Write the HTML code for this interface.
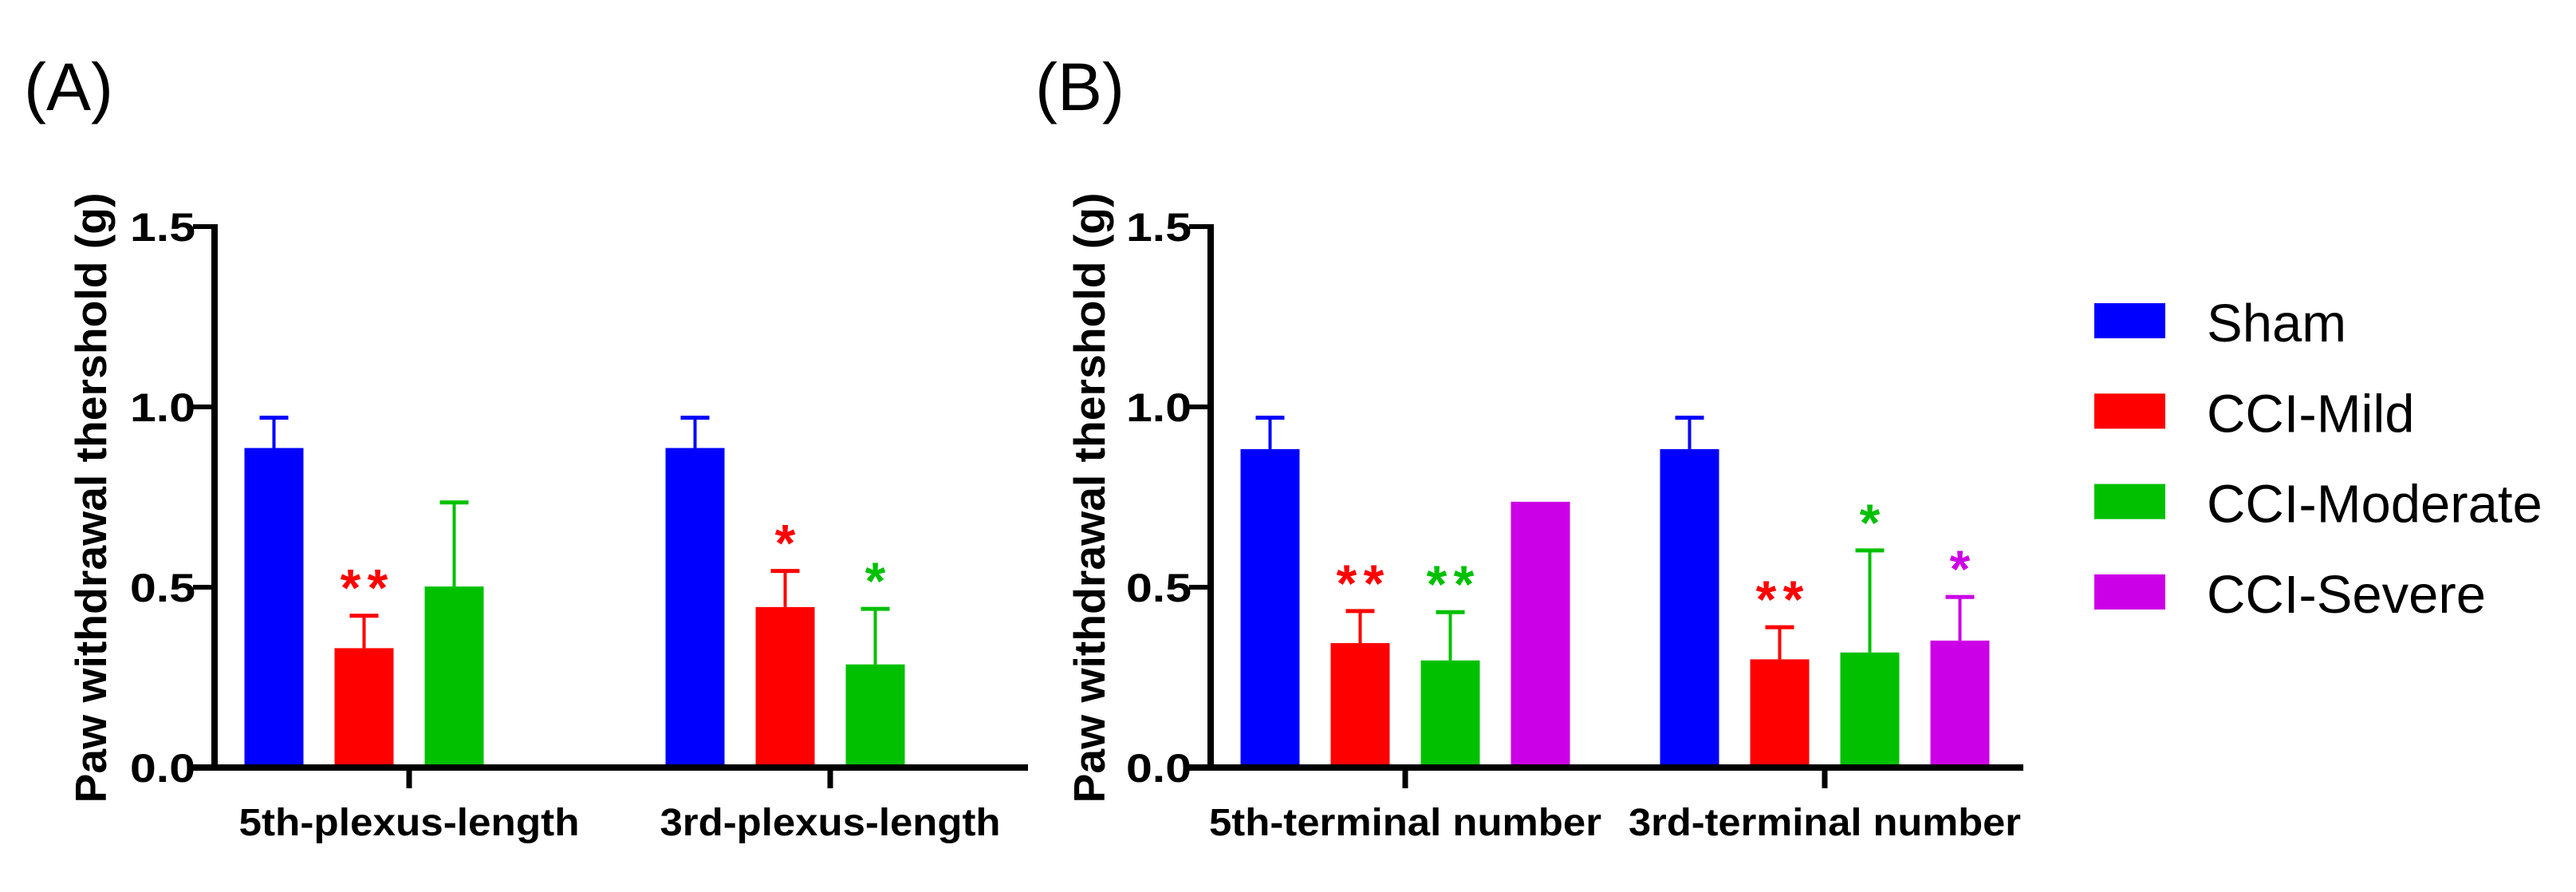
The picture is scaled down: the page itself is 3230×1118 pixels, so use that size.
<!DOCTYPE html>
<html><head><meta charset="utf-8"><style>
html,body{margin:0;padding:0;background:#fff;}
svg{display:block;font-family:"Liberation Sans",Arial,sans-serif;}
</style></head><body>
<svg id="chart" width="3230" height="1118" viewBox="0 0 3230 1118" xmlns="http://www.w3.org/2000/svg">
<text x="30" y="138" font-size="84">(A)</text>
<text x="1298" y="138" font-size="84">(B)</text>
<g id="panelA"></g>
<g id="panelB"></g>
<g id="legend"></g>
</svg>
<script>
const seriesNames = ["Sham","CCI-Mild","CCI-Moderate","CCI-Severe"];
const seriesColors = ["#0000ff","#ff0000","#00c000","#cc00e6"];
const yTicks = [0, 0.5, 1.0, 1.5];
const yTickLabels = ["0.0","0.5","1.0","1.5"];
const catsA = ["5th-plexus-length","3rd-plexus-length"];
const meanA = [[0.886,0.331,0.502],[0.886,0.445,0.286]];
const errA  = [[0.970,0.421,0.735],[0.970,0.545,0.440]];
const starsA = [["","**",""],["","*","*"]];
const catsB = ["5th-terminal number","3rd-terminal number"];
const meanB = [[0.883,0.345,0.297,0.737],[0.883,0.300,0.319,0.352]];
const errB  = [[0.970,0.434,0.431,null],[0.970,0.389,0.602,0.473]];
const starsB = [["","**","**",""],["","**","*","*"]];

const NS="http://www.w3.org/2000/svg";
function mk(tag, attrs, parent){const e=document.createElementNS(NS,tag);for(const k in attrs)e.setAttribute(k,attrs[k]);parent.appendChild(e);return e;}
const Y0=962, PXU=452;
function yScale(v){return Y0 - v*PXU;}

function drawPanel(g, axisX, axisEnd, tickXs, cats, means, errs, stars, titleX, labelW){
  const barW=74, step=113, slots=4;
  cats.forEach((c,ci)=>{
    const center=tickXs[ci];
    const start=center - ((slots-1)*step + barW)/2;
    means[ci].forEach((v,si)=>{
      const x0=start + si*step;
      const col=seriesColors[si];
      const cx=x0+barW/2;
      const e=errs[ci][si];
      if(e!==null){
        const l=mk('line',{x1:cx,x2:cx,y1:yScale(v),y2:yScale(e),stroke:col,'stroke-width':4},g);
        
        
        const cap=mk('line',{x1:cx-18,x2:cx+18,y1:yScale(e),y2:yScale(e),stroke:col,'stroke-width':5},g);
        
        
      }
      const r=mk('rect',{x:x0,y:yScale(v),width:barW,height:Y0-yScale(v),fill:col},g);
      
      
      const s=stars[ci][si];
      if(s){
        const top=yScale(e!==null?e:v);
        const k=s.length;
        for(let j=0;j<k;j++){
          const sx=cx+(j-(k-1)/2)*34;
          const t=mk('text',{x:sx,y:top-12,'text-anchor':'middle','font-size':66,'font-weight':'bold',fill:col},g);
          t.textContent='*';
          
          
        }
      }
    });
    const tk=mk('line',{x1:center,x2:center,y1:Y0,y2:Y0+26,stroke:'#000','stroke-width':7},g);
    
    
    const lb=mk('text',{x:center,y:1047,'text-anchor':'middle','font-size':48,'font-weight':'bold',textLength:labelW,lengthAdjust:'spacingAndGlyphs'},g);
    lb.textContent=c;
    
    
  });
  const ya=mk('line',{x1:axisX,x2:axisX,y1:yScale(1.5)-3,y2:Y0+3,stroke:'#000','stroke-width':8},g);
  
  
  const xa=mk('line',{x1:axisX-27,x2:axisEnd,y1:Y0,y2:Y0,stroke:'#000','stroke-width':8},g);
  
  
  yTicks.forEach((v,i)=>{
    const t=mk('line',{x1:axisX-27,x2:axisX,y1:yScale(v),y2:yScale(v),stroke:'#000','stroke-width':6},g);
    
    
    const l=mk('text',{x:axisX-106,y:yScale(v)+18,'font-size':50,'font-weight':'bold',textLength:82,lengthAdjust:'spacingAndGlyphs'},g);
    l.textContent=yTickLabels[i];
    
    
  });
  const tt=mk('text',{x:0,y:0,'text-anchor':'middle','font-size':55,'font-weight':'bold',textLength:765,lengthAdjust:'spacingAndGlyphs',transform:`translate(${titleX},624) rotate(-90)`},g);
  tt.textContent='Paw withdrawal thershold (g)';
  
  
}
drawPanel(document.getElementById('panelA'),269,1289,[513,1041],catsA,meanA,errA,starsA,133,427);
drawPanel(document.getElementById('panelB'),1518,2537,[1762,2288],catsB,meanB,errB,starsB,1385,492);

const lg=document.getElementById('legend');
seriesNames.forEach((n,i)=>{
  const top=380+i*113.3;
  const r=mk('rect',{x:2626,y:top,width:89,height:44,fill:seriesColors[i]},lg);
  
  
  const t=mk('text',{x:2767,y:top+48,'font-size':67},lg);
  t.textContent=n;
  
  
});
</script>
</body></html>
